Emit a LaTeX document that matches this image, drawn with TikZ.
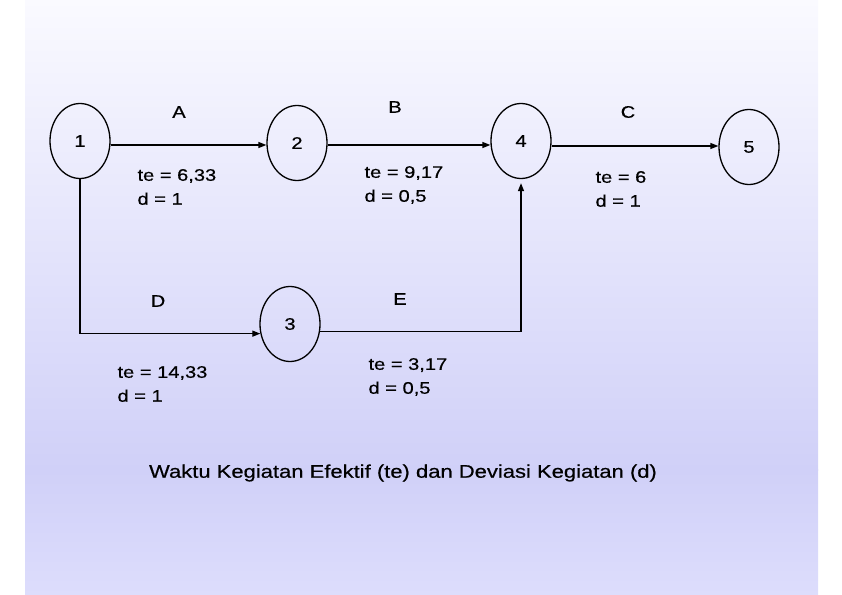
\documentclass[tikz,border=0pt]{standalone}
\usepackage{fontspec}
\setmainfont{Liberation Sans}[FakeStretch=1.2,FakeBold=0.5]
\usetikzlibrary{shapes.geometric,arrows.meta}
\definecolor{paneltop}{RGB}{250,250,255}
\definecolor{panelmid}{RGB}{208,208,248}
\definecolor{panelbot}{RGB}{221,221,252}
\tikzset{
  event/.style={draw,ellipse,line width=1.3bp,minimum width=60bp,minimum height=75bp,
    inner sep=0pt,font=\fontsize{16.8}{18}\selectfont},
  act/.style={-{Triangle[length=8bp,width=6bp]},line width=1.3bp},
  dur/.style={font=\fontsize{16.8}{24}\selectfont,align=left,anchor=west},
  tag/.style={font=\fontsize{16.8}{18}\selectfont}
}
\begin{document}
\begin{tikzpicture}[x=1bp,y=-1bp]
  \useasboundingbox (0,0) rectangle (842,595);
  % background panel
  \shade[top color=paneltop,bottom color=panelmid] (25,0) rectangle (818,470);
  \shade[top color=panelmid,bottom color=panelbot] (25,469.5) rectangle (818,595);

  % events
  \node[event] (n1) at (80,141) {1};
  \node[event] (n2) at (297,143) {2};
  \node[event] (n4) at (521,141) {4};
  \node[event] (n5) at (749,147) {5};
  \node[event] (n3) at (290,324) {3};

  % activities
  \draw[act] (n1.east |- 0,145) -- (n2.west |- 0,145);
  \draw[act] (n2.east |- 0,145) -- (n4.west |- 0,145);
  \draw[act] (n4.east |- 0,146) -- (n5.west |- 0,146);
  \draw[act] (n1.south) |- (n3.198);
  \draw[act,shorten >=4bp] (n3.-14) -| (n4.south);

  \node[tag] (lA) at (179,112) {A};
  \node[tag] (lB) at (395,107) {B};
  \node[tag] (lC) at (628,112) {C};
  \node[tag] (lD) at (158,301) {D};
  \node[tag] (lE) at (400,299) {E};

  \node[dur] (tA) at (134,187) {te = 6,33\\d = 1};
  \node[dur] (tB) at (361,185) {te = 9,17\\d = 0,5};
  \node[dur] (tC) at (592,189) {te = 6\\d = 1};
  \node[dur] (tD) at (114,384) {te = 14,33\\d = 1};
  \node[dur] (tE) at (365,377) {te = 3,17\\d = 0,5};

  \node[font=\fontsize{18.4}{20}\selectfont] (cap) at (403,473)
    {Waktu Kegiatan Efektif (te) dan Deviasi Kegiatan (d)};
\end{tikzpicture}
\end{document}
